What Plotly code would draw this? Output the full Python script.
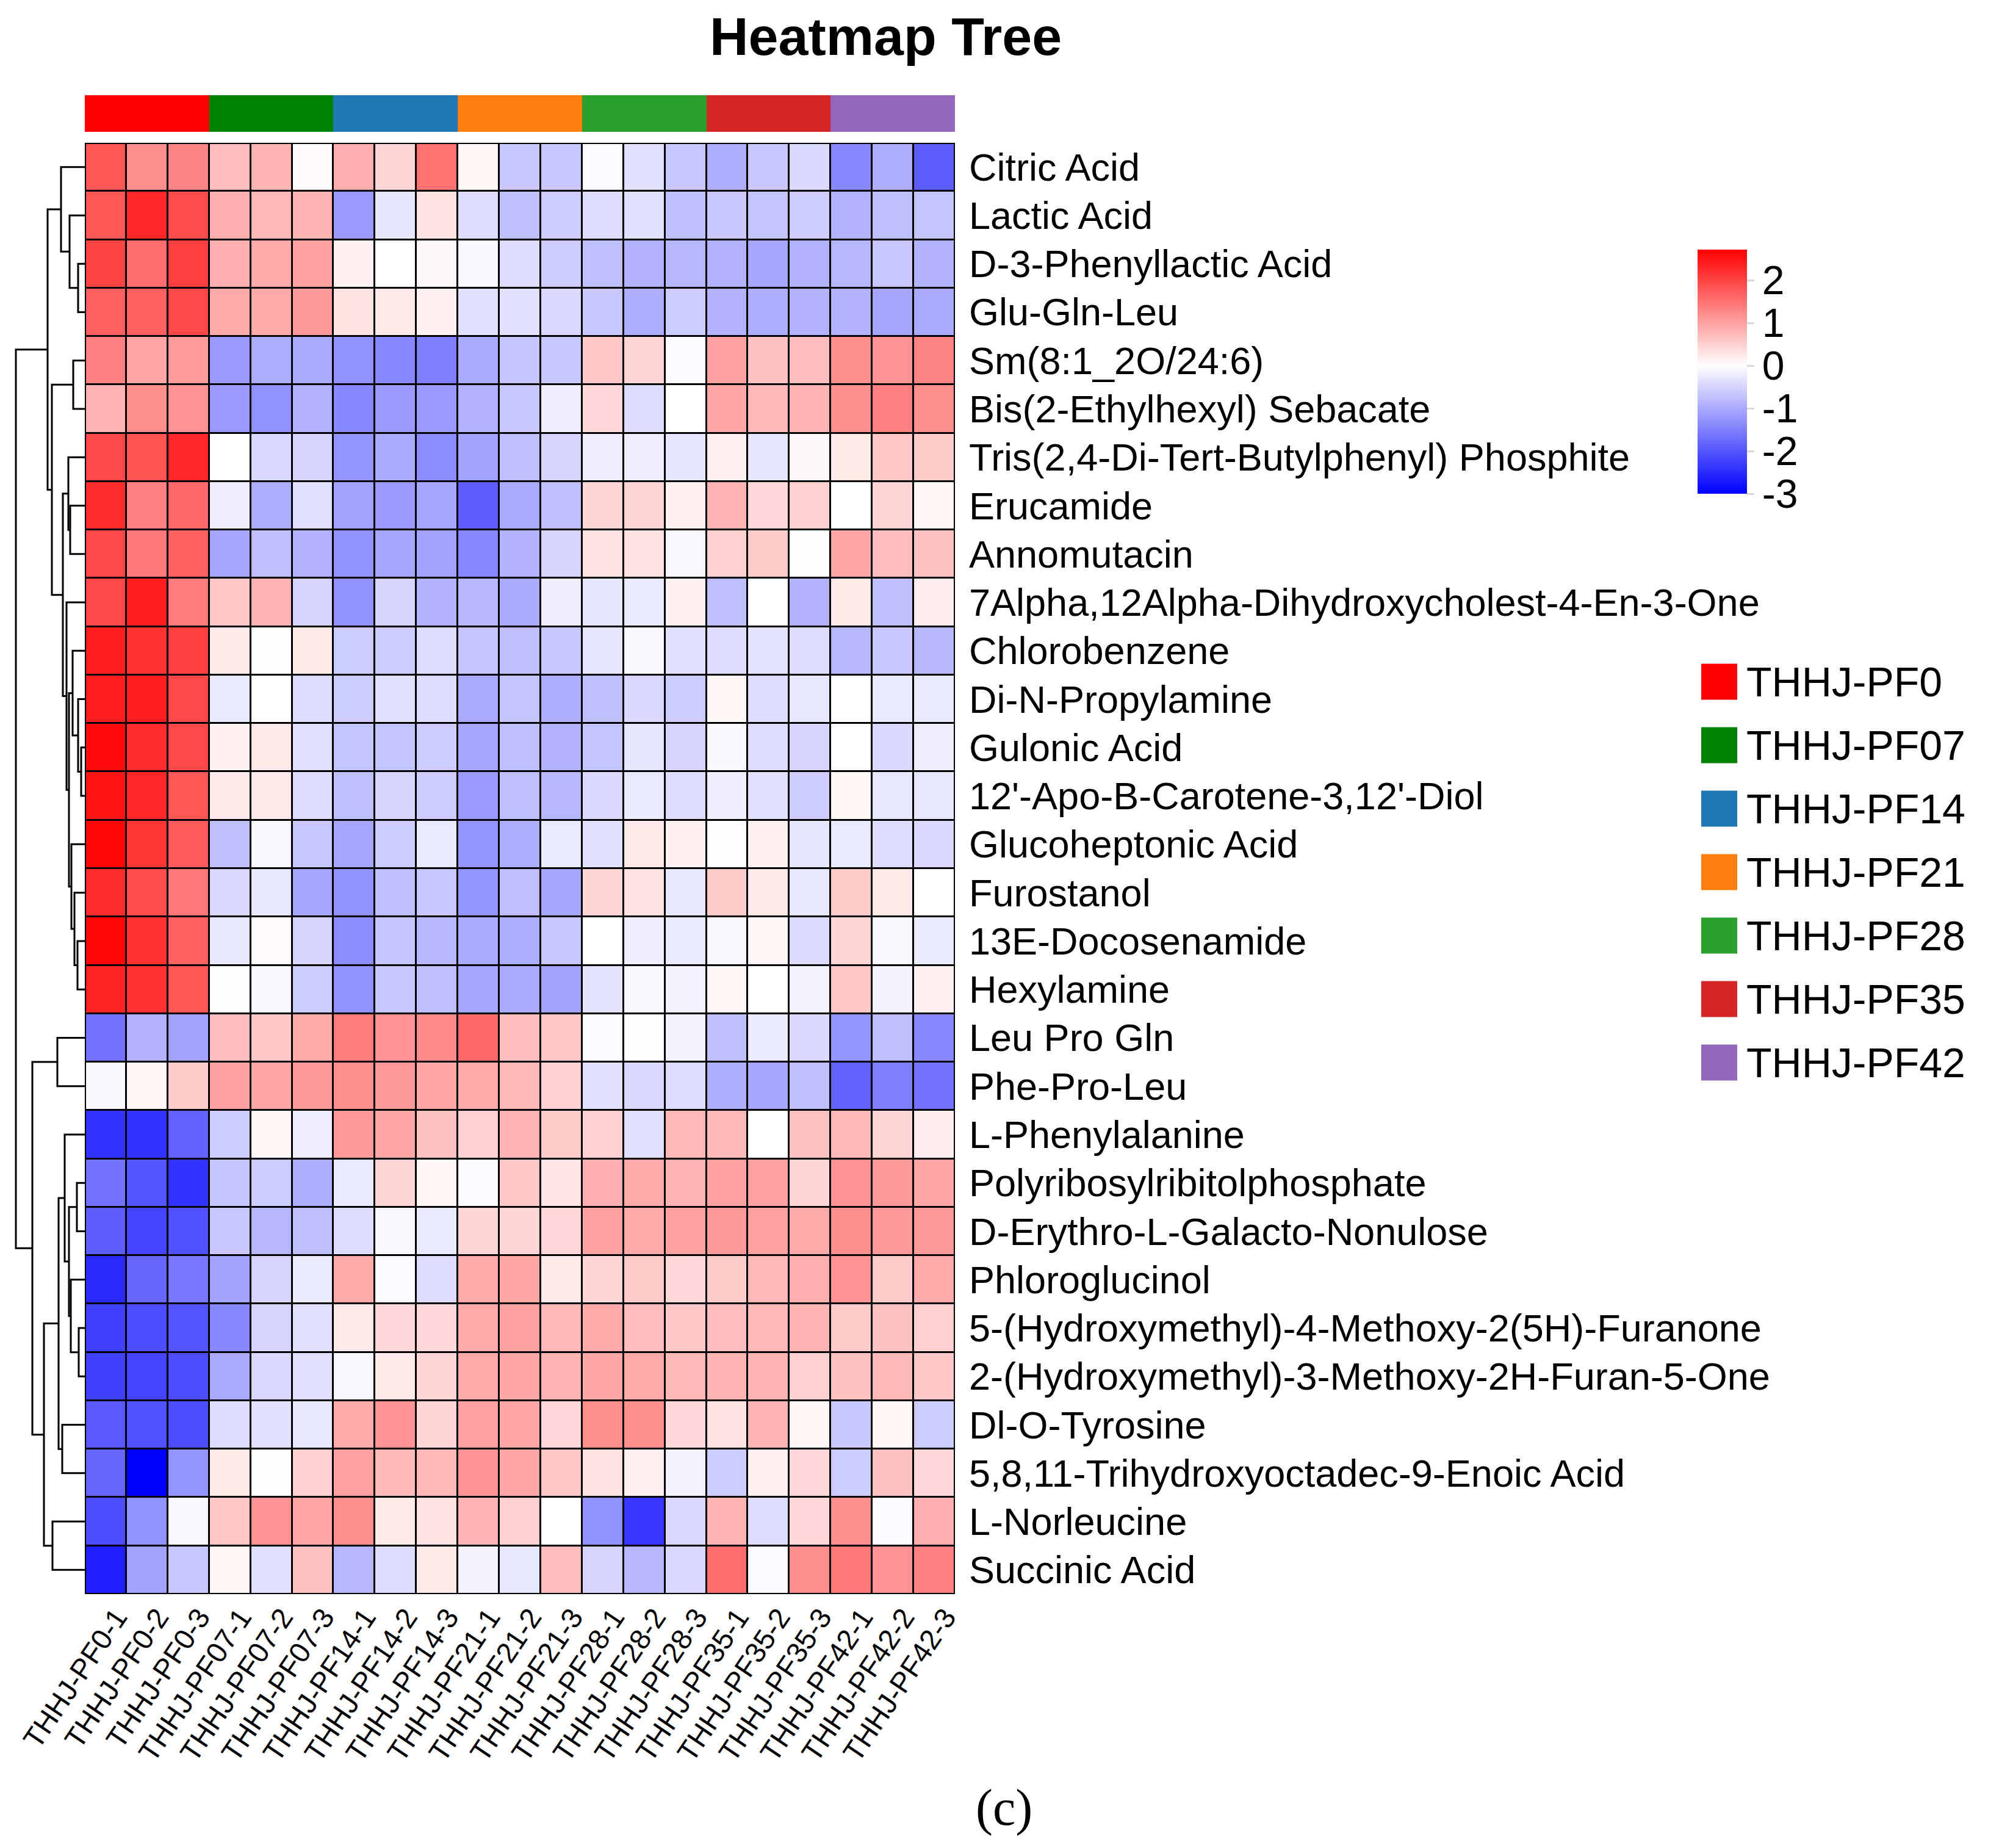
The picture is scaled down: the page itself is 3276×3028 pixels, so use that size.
import plotly.graph_objects as go

# the page body adds an 8px margin, so the figure is 16px smaller than the window
OFF = 8
W, H = 3276 - 2 * OFF, 3028 - 2 * OFF

metabolites = ["Citric Acid", "Lactic Acid", "D-3-Phenyllactic Acid", "Glu-Gln-Leu",
               "Sm(8:1_2O/24:6)", "Bis(2-Ethylhexyl) Sebacate",
               "Tris(2,4-Di-Tert-Butylphenyl) Phosphite", "Erucamide", "Annomutacin",
               "7Alpha,12Alpha-Dihydroxycholest-4-En-3-One", "Chlorobenzene", "Di-N-Propylamine",
               "Gulonic Acid", "12'-Apo-B-Carotene-3,12'-Diol", "Glucoheptonic Acid", "Furostanol",
               "13E-Docosenamide", "Hexylamine", "Leu Pro Gln", "Phe-Pro-Leu", "L-Phenylalanine",
               "Polyribosylribitolphosphate", "D-Erythro-L-Galacto-Nonulose", "Phloroglucinol",
               "5-(Hydroxymethyl)-4-Methoxy-2(5H)-Furanone",
               "2-(Hydroxymethyl)-3-Methoxy-2H-Furan-5-One", "Dl-O-Tyrosine",
               "5,8,11-Trihydroxyoctadec-9-Enoic Acid", "L-Norleucine", "Succinic Acid"]

groups = ["THHJ-PF0", "THHJ-PF07", "THHJ-PF14", "THHJ-PF21", "THHJ-PF28", "THHJ-PF35", "THHJ-PF42"]
group_colors = ["#FF0000", "#008000", "#1F77B4", "#FF7F0E", "#2CA02C", "#D62728", "#9467BD"]
samples = [g + "-" + str(r) for g in groups for r in (1, 2, 3)]

# z-scores, upper row cluster (Citric Acid .. Hexylamine)
z_upper = [
    [1.8, 1.2, 1.3, 0.7, 0.8, 0.05, 0.85, 0.45, 1.5, 0.1, -0.65, -0.65, -0.05, -0.35, -0.65, -0.95, -0.65, -0.45, -1.4, -0.95, -1.9],
    [1.8, 2.3, 1.9, 0.85, 0.75, 0.8, -1.2, -0.3, 0.3, -0.4, -0.75, -0.6, -0.4, -0.35, -0.75, -0.65, -0.7, -0.6, -0.9, -0.75, -0.7],
    [2.0, 1.55, 2.05, 0.85, 0.9, 1.0, 0.15, 0.0, 0.07, -0.08, -0.4, -0.6, -0.75, -0.9, -0.85, -0.9, -1.05, -0.9, -0.85, -0.65, -0.9],
    [1.7, 1.7, 1.95, 0.9, 0.9, 1.1, 0.3, 0.25, 0.15, -0.35, -0.35, -0.45, -0.65, -0.95, -0.6, -0.9, -0.95, -0.9, -0.9, -1.05, -1.0],
    [1.35, 0.95, 1.05, -1.2, -0.95, -1.0, -1.3, -1.4, -1.5, -1.0, -0.7, -0.65, 0.6, 0.45, -0.05, 1.0, 0.65, 0.7, 1.2, 1.15, 1.3],
    [0.8, 1.2, 1.15, -1.2, -1.3, -0.9, -1.4, -1.2, -1.2, -0.9, -0.65, -0.2, 0.4, -0.4, 0.0, 0.95, 0.75, 0.8, 1.2, 1.35, 1.2],
    [1.95, 1.85, 2.3, 0.0, -0.45, -0.5, -1.25, -1.0, -1.35, -1.1, -0.75, -0.5, -0.2, -0.2, -0.3, 0.15, -0.3, 0.07, 0.25, 0.6, 0.55],
    [2.25, 1.35, 1.6, -0.2, -0.95, -0.35, -1.1, -1.2, -1.05, -1.9, -1.0, -0.75, 0.45, 0.45, 0.15, 0.8, 0.4, 0.5, 0.0, 0.45, 0.1],
    [1.95, 1.45, 1.7, -1.05, -0.75, -0.9, -1.3, -1.05, -1.1, -1.4, -0.9, -0.5, 0.3, 0.3, -0.1, 0.5, 0.55, 0.02, 0.95, 0.7, 0.65],
    [1.95, 2.4, 1.4, 0.6, 0.8, -0.5, -1.3, -0.5, -0.9, -0.85, -1.0, -0.2, -0.3, -0.25, 0.15, -0.75, 0.0, -0.9, 0.25, -0.75, 0.2],
    [2.4, 2.2, 2.05, 0.25, 0.03, 0.25, -0.6, -0.6, -0.4, -0.7, -0.75, -0.65, -0.3, -0.1, -0.35, -0.4, -0.32, -0.4, -0.85, -0.65, -0.85],
    [2.4, 2.4, 1.95, -0.25, 0.0, -0.4, -0.6, -0.35, -0.4, -1.0, -0.7, -0.95, -0.75, -0.45, -0.6, 0.1, -0.4, -0.28, 0.0, -0.25, -0.25],
    [2.6, 2.25, 1.95, 0.15, 0.25, -0.35, -0.7, -0.7, -0.6, -1.05, -0.75, -0.9, -0.7, -0.3, -0.5, -0.08, -0.4, -0.5, 0.0, -0.45, -0.2],
    [2.5, 2.3, 1.8, 0.22, 0.22, -0.4, -0.75, -0.5, -0.6, -1.2, -0.75, -0.85, -0.45, -0.25, -0.4, -0.2, -0.35, -0.6, 0.1, -0.28, -0.28],
    [2.66, 2.15, 1.75, -0.75, -0.1, -0.65, -1.05, -0.6, -0.25, -1.25, -0.95, -0.25, -0.35, 0.22, 0.15, 0.02, 0.15, -0.3, -0.25, -0.4, -0.45],
    [2.25, 1.9, 1.45, -0.45, -0.28, -1.05, -1.3, -0.75, -0.65, -1.25, -0.75, -1.05, 0.45, 0.3, -0.28, 0.55, 0.25, -0.28, 0.55, 0.25, 0.0],
    [2.66, 2.2, 1.7, -0.28, 0.05, -0.5, -1.35, -0.7, -0.85, -1.0, -0.95, -0.65, 0.0, -0.2, -0.25, -0.1, 0.1, -0.42, 0.45, -0.1, -0.25],
    [2.35, 2.2, 1.8, 0.03, -0.1, -0.6, -1.3, -0.65, -0.75, -1.05, -1.0, -1.1, -0.32, -0.1, -0.15, 0.1, 0.0, -0.15, 0.6, -0.15, 0.15],
]

# z-scores, lower row cluster (Leu Pro Gln .. Succinic Acid)
z_lower = [
    [-1.65, -0.9, -1.1, 0.7, 0.6, 0.9, 1.4, 1.15, 1.25, 1.6, 0.7, 0.6, -0.05, 0.03, -0.15, -0.75, -0.25, -0.45, -1.25, -0.75, -1.4],
    [-0.08, 0.1, 0.55, 1.0, 0.95, 1.1, 1.2, 1.1, 0.95, 0.9, 0.75, 0.5, -0.35, -0.45, -0.4, -0.95, -1.05, -0.75, -1.85, -1.5, -1.65],
    [-2.4, -2.4, -1.85, -0.6, 0.1, -0.2, 1.1, 0.95, 0.65, 0.5, 0.8, 0.55, 0.5, -0.35, 0.75, 0.75, 0.0, 0.65, 0.75, 0.45, 0.2],
    [-1.65, -2.0, -2.4, -0.7, -0.6, -0.95, -0.25, 0.45, 0.1, -0.05, 0.6, 0.28, 0.85, 0.9, 0.8, 1.0, 1.0, 0.45, 1.15, 1.1, 0.95],
    [-1.9, -2.2, -2.05, -0.65, -0.85, -0.75, -0.4, -0.1, -0.25, 0.45, 0.45, 0.4, 1.0, 0.9, 1.0, 1.1, 1.0, 0.9, 1.2, 1.1, 1.1],
    [-2.5, -1.8, -1.6, -1.1, -0.5, -0.25, 0.9, -0.05, -0.4, 0.9, 0.95, 0.25, 0.45, 0.55, 0.4, 0.55, 0.75, 0.85, 1.15, 0.55, 0.9],
    [-2.25, -2.1, -2.0, -1.4, -0.5, -0.38, 0.25, 0.4, 0.4, 0.9, 1.0, 0.75, 0.9, 0.7, 0.6, 0.7, 0.75, 0.8, 0.55, 0.65, 0.5],
    [-2.25, -2.2, -2.1, -1.0, -0.45, -0.38, -0.1, 0.22, 0.45, 0.9, 0.95, 0.8, 0.95, 0.9, 0.75, 0.8, 0.8, 0.5, 0.65, 0.75, 0.6],
    [-1.95, -2.05, -2.1, -0.4, -0.35, -0.28, 0.9, 1.15, 0.45, 1.0, 0.95, 0.4, 1.2, 1.2, 0.4, 0.3, 0.8, 0.1, -0.65, 0.1, -0.6],
    [-1.8, -3.0, -1.25, 0.25, 0.02, 0.5, 1.0, 0.75, 0.75, 1.15, 0.95, 0.6, 0.3, 0.15, -0.15, -0.6, 0.15, 0.4, -0.6, 0.65, 0.4],
    [-2.1, -1.3, -0.1, 0.6, 1.15, 0.95, 1.2, 0.25, 0.3, 0.8, 0.5, 0.0, -1.3, -2.35, -0.45, 0.8, -0.4, 0.4, 1.2, -0.05, 0.85],
    [-2.65, -1.1, -0.65, 0.1, -0.35, 0.65, -0.85, -0.4, 0.25, -0.15, -0.28, 0.7, -0.5, -0.85, -0.45, 1.55, -0.05, 1.2, 1.45, 1.15, 1.35],
]

# row clustering: (left, right, height); ints are row indices, "mN" refers to merge N
merges = [
    (2, 3, 11), (1, "m0", 25), (0, "m1", 39), (4, 5, 19), (7, 8, 24), (6, "m4", 27),
    (12, 13, 6), (11, "m6", 11), (10, "m7", 20), (16, 17, 12), (15, "m9", 17), (14, "m10", 22),
    ("m8", "m11", 26), (9, "m12", 30), ("m5", "m13", 36), ("m3", "m14", 54), ("m2", "m15", 61),
    (18, 19, 45), (21, 22, 13), (24, 25, 10), (23, "m19", 23), ("m18", "m20", 26), (20, "m21", 33),
    (26, 27, 37), ("m22", "m23", 43), (28, 29, 53), ("m24", "m25", 67), ("m17", "m26", 86),
    ("m16", "m27", 113),
]

cbar_ticks = [-3, -2, -1, 0, 1, 2]

z = z_upper + z_lower
n_rows, n_cols = len(metabolites), len(samples)
group_idx = [i // 3 for i in range(n_cols)]

zmin, zmax = -3, 2.72
blue_white_red = [[0, "rgb(0,0,255)"], [-zmin / (zmax - zmin), "rgb(255,255,255)"], [1, "rgb(255,0,0)"]]

discrete = []
for k, c in enumerate(group_colors):
    discrete += [[k / len(group_colors), c], [(k + 1) / len(group_colors), c]]


# window pixel -> paper coordinate
def px_x(p):
    return (p - OFF) / W


def px_y(p):
    return 1 - (p - OFF) / H


FONT = "Liberation Sans, Arial, sans-serif"

# dendrogram segments
node_pos = {}


def child(c):
    if isinstance(c, str):
        return node_pos[c]
    return (c, 0)


dx, dy = [], []
for i, (a, b, h) in enumerate(merges):
    ya, ha = child(a)
    yb, hb = child(b)
    dx += [ha, h, h, hb, None]
    dy += [ya, ya, yb, yb, None]
    node_pos["m" + str(i)] = ((ya + yb) / 2, h)

fig = go.Figure()

fig.add_trace(go.Heatmap(
    z=z, x=list(range(n_cols)), y=list(range(n_rows)),
    colorscale=blue_white_red, zmin=zmin, zmax=zmax, xgap=3, ygap=3,
    hoverinfo="skip",
    colorbar=dict(x=px_x(2782), xanchor="left", xpad=0, y=px_y(409), yanchor="top", ypad=0,
                  len=400, lenmode="pixels", thickness=81, thicknessmode="pixels",
                  outlinewidth=0, tickvals=cbar_ticks, ticktext=[str(t) for t in cbar_ticks],
                  ticks="outside", ticklen=12, tickwidth=3, tickcolor="#d9d9d9",
                  tickfont=dict(family=FONT, size=66, color="black")),
    xaxis="x", yaxis="y"))

fig.add_trace(go.Scatter(x=dx, y=dy, mode="lines", line=dict(color="black", width=3),
                         hoverinfo="skip", showlegend=False, xaxis="x2", yaxis="y2"))

fig.add_trace(go.Heatmap(z=[group_idx], x=list(range(n_cols)), y=[0], colorscale=discrete,
                         zmin=-0.5, zmax=len(groups) - 0.5, showscale=False, hoverinfo="skip",
                         xaxis="x3", yaxis="y3"))

fig.add_trace(go.Scatter(x=[0] * len(groups), y=list(range(len(groups))), mode="markers",
                         marker=dict(symbol="square", size=59, color=group_colors, line=dict(width=0)),
                         cliponaxis=False, hoverinfo="skip", showlegend=False,
                         xaxis="x4", yaxis="y4"))

hm_x = [px_x(139), px_x(1565)]
hm_y = [px_y(2612), px_y(234)]
hidden = dict(visible=False, showgrid=False, zeroline=False, automargin=False)

fig.update_layout(
    width=W, height=H, margin=dict(l=0, r=0, t=0, b=0, autoexpand=False),
    paper_bgcolor="white", plot_bgcolor="white", showlegend=False,
    xaxis=dict(domain=hm_x, range=[-0.5, n_cols - 0.5], tickvals=list(range(n_cols)),
               ticktext=samples, tickangle=-56, ticks="", showgrid=False, zeroline=False,
               showline=False, automargin=False, ticklabeloverflow="allow", ticklabelshift=18,
               tickfont=dict(family=FONT, size=47, color="black"), anchor="y"),
    yaxis=dict(domain=hm_y, range=[n_rows - 0.5, -0.5], tickvals=list(range(n_rows)),
               ticktext=metabolites, side="right", ticks="", showgrid=False, zeroline=False,
               showline=False, ticklabelstandoff=22, automargin=False, ticklabeloverflow="allow",
               tickfont=dict(family=FONT, size=63, color="black"), anchor="x"),
    xaxis2=dict(domain=[0, px_x(139)], range=[139 - OFF, 0], anchor="y2", **hidden),
    yaxis2=dict(domain=hm_y, range=[n_rows - 0.5, -0.5], anchor="x2", **hidden),
    xaxis3=dict(domain=hm_x, range=[-0.5, n_cols - 0.5], anchor="y3", **hidden),
    yaxis3=dict(domain=[px_y(216), px_y(156)], range=[-0.5, 0.5], anchor="x3", **hidden),
    xaxis4=dict(domain=[px_x(2788), px_x(2847)], range=[-0.5, 0.5], anchor="y4", **hidden),
    yaxis4=dict(domain=[px_y(1793), px_y(1065)], range=[len(groups) - 0.5, -0.5], anchor="x4", **hidden),
)

fig.add_shape(type="rect", xref="x", yref="y", x0=-0.5, x1=n_cols - 0.5, y0=-0.5, y1=n_rows - 0.5,
              fillcolor="black", line=dict(width=0), layer="below")
fig.add_shape(type="rect", xref="x", yref="y", x0=-0.5, x1=n_cols - 0.5, y0=-0.5, y1=n_rows - 0.5,
              fillcolor="rgba(0,0,0,0)", line=dict(color="black", width=4), layer="above")

for k, g in enumerate(groups):
    fig.add_annotation(text=g, xref="paper", yref="y4", x=px_x(2860), y=k, xanchor="left",
                       yanchor="middle", showarrow=False,
                       font=dict(family=FONT, size=68, color="black"))

fig.add_annotation(text="<b>Heatmap Tree</b>", xref="paper", yref="paper", x=px_x(1451), y=1,
                   xanchor="center", yanchor="top", showarrow=False,
                   font=dict(family=FONT, size=88, color="black"))
fig.add_annotation(text="(c)", xref="paper", yref="paper", x=px_x(1645), y=px_y(2962),
                   xanchor="center", yanchor="middle", showarrow=False,
                   font=dict(family="Liberation Serif, serif", size=84, color="black"))

fig.write_html("out.html")
